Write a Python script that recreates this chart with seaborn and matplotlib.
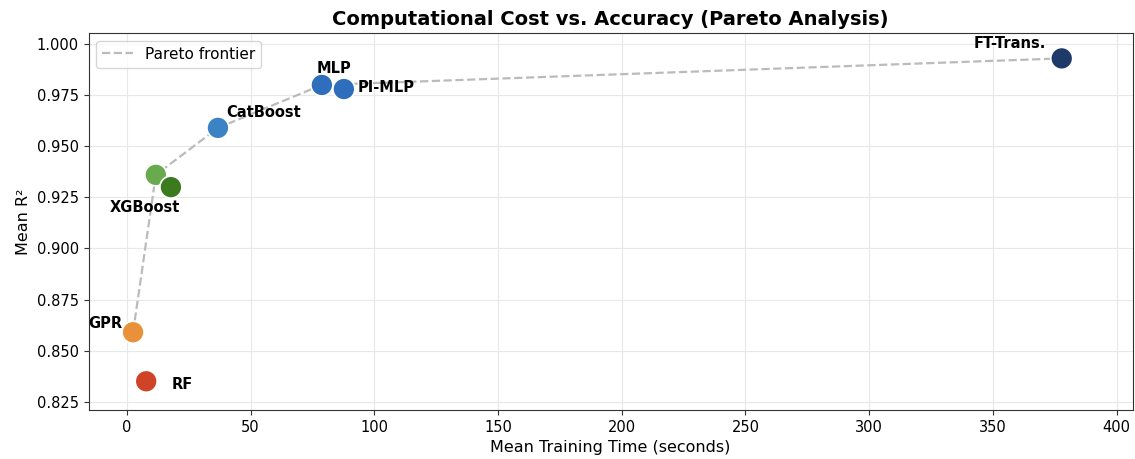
import matplotlib
matplotlib.use("Agg")
import matplotlib.pyplot as plt
import seaborn as sns
import pandas as pd

models = ["GPR", "RF", "LightGBM", "XGBoost", "CatBoost", "MLP", "PI-MLP", "FT-Trans."]
train_time = [2.5, 7.8, 11.7, 17.8, 36.8, 78.8, 87.7, 377.8]
mean_r2 = [0.859, 0.835, 0.936, 0.930, 0.959, 0.980, 0.978, 0.993]
labels = ["GPR", "RF", "", "XGBoost", "CatBoost", "MLP", "PI-MLP", "FT-Trans."]
colors = ["#E8913A", "#CF4427", "#69AA4F", "#3B7A1F", "#3C83C5", "#2E6EBD", "#2E6EBD", "#1F3A68"]
pareto = ["GPR", "LightGBM", "CatBoost", "MLP", "FT-Trans."]

# label offsets in points (dx, dy, ha)
offsets = {
    "GPR": (-8, 6, "right"),
    "RF": (18, -2, "left"),
    "XGBoost": (-19, -15, "center"),
    "CatBoost": (6, 11, "left"),
    "MLP": (9, 12, "center"),
    "PI-MLP": (10, 1, "left"),
    "FT-Trans.": (-11, 11, "right"),
}

df = pd.DataFrame({"model": models, "time": train_time, "r2": mean_r2, "label": labels})
front = df[df["model"].isin(pareto)].sort_values("time")

sns.set_style("whitegrid", {"axes.edgecolor": "0.2", "xtick.bottom": True, "ytick.left": True,
                            "grid.color": "0.91", "text.color": "black",
                            "axes.labelcolor": "black", "xtick.color": "0.2", "ytick.color": "0.2"})
fig, ax = plt.subplots(figsize=(11.35, 4.59), dpi=100)

sns.lineplot(data=front, x="time", y="r2", ax=ax, color="#BBBBBB", linestyle="--",
             linewidth=1.6, label="Pareto frontier", sort=True, zorder=1)
sns.scatterplot(data=df, x="time", y="r2", hue="model", palette=colors, s=250,
                edgecolor="white", linewidth=1.2, legend=False, ax=ax, zorder=3)

for _, row in df.iterrows():
    if not row["label"]:
        continue
    dx, dy, ha = offsets[row["label"]]
    ax.annotate(row["label"], (row["time"], row["r2"]), xytext=(dx, dy),
                textcoords="offset points", ha=ha, va="center",
                fontsize=10.5, fontweight="bold", color="black")

ax.set_xlim(-15.5, 406.5)
ax.set_ylim(0.821, 1.0054)
ax.set_xlabel("Mean Training Time (seconds)", fontsize=11.5)
ax.set_ylabel("Mean R²", fontsize=11.5)
ax.set_title("Computational Cost vs. Accuracy (Pareto Analysis)", fontsize=14,
             fontweight="bold", color="black")
ax.tick_params(labelsize=10.5, labelcolor="black")
ax.legend(loc="upper left", fontsize=11)

fig.subplots_adjust(left=0.078, right=0.998, top=0.928, bottom=0.107)
fig.savefig("out.png", dpi=100)
